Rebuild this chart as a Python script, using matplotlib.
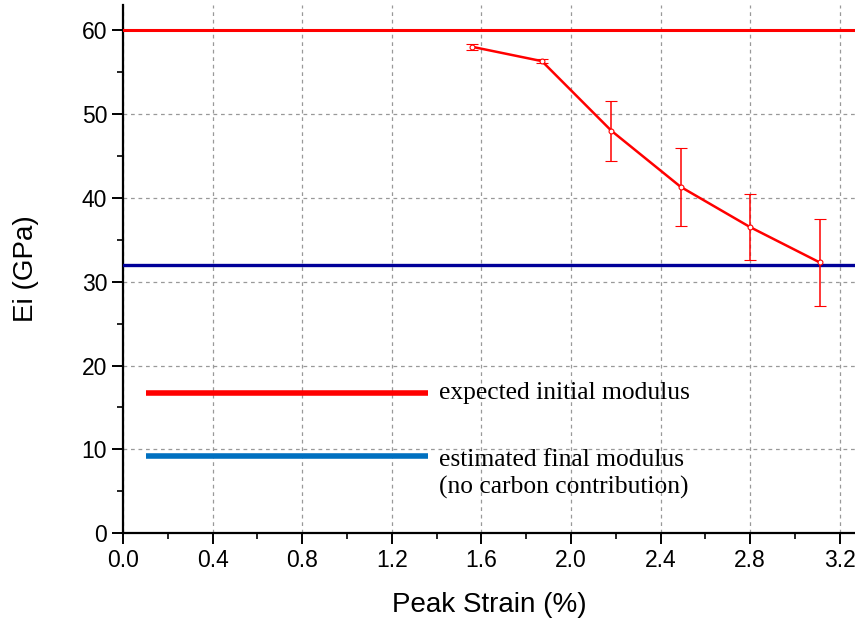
import matplotlib.pyplot as plt
from matplotlib.ticker import MultipleLocator

# Measured data
strain = [1.56, 1.87, 2.18, 2.49, 2.80, 3.11]
modulus = [58.0, 56.3, 48.0, 41.3, 36.5, 32.3]
modulus_err = [0.4, 0.2, 3.6, 4.7, 3.9, 5.2]

# Reference levels
expected_initial = 60
estimated_final = 32

red = '#FF0000'
navy = '#000099'
blue = '#0070C0'

fig = plt.figure(figsize=(8.55, 6.2), dpi=100)
ax = fig.add_axes([0.144, 0.140, 0.856, 0.852])

ax.axhline(expected_initial, color=red, lw=2.2, zorder=3)
ax.axhline(estimated_final, color=navy, lw=2.4, zorder=3)

ax.errorbar(strain, modulus, yerr=modulus_err, color=red, lw=1.8,
            elinewidth=1.1, capsize=4.3, capthick=1.1, marker='o', ms=3.5,
            mfc='white', mec=red, mew=0.8, zorder=4)

# Hand-drawn key
ax.plot([0.10, 1.36], [16.7, 16.7], color=red, lw=4, solid_capstyle='butt')
ax.plot([0.10, 1.36], [9.2, 9.2], color=blue, lw=4, solid_capstyle='butt')
ax.text(1.41, 16.7, 'expected initial modulus', fontsize=18.4,
        family='Liberation Serif', va='center', ha='left')
ax.text(1.41, 10.1, 'estimated final modulus\n(no carbon contribution)',
        fontsize=18.4, family='Liberation Serif', va='top', ha='left',
        linespacing=1.3)

ax.set_xlim(0, 3.268)
ax.set_ylim(0, 63)
ax.xaxis.set_major_locator(MultipleLocator(0.4))
ax.xaxis.set_minor_locator(MultipleLocator(0.2))
ax.yaxis.set_major_locator(MultipleLocator(10))
ax.yaxis.set_minor_locator(MultipleLocator(5))
ax.xaxis.set_major_formatter(plt.FuncFormatter(lambda v, p: f'{v:.1f}'))

ax.grid(True, which='major', color='#999999', ls=(0, (3, 3)), lw=0.9)
ax.set_axisbelow(True)

for s in ['top', 'right']:
    ax.spines[s].set_visible(False)
for s in ['left', 'bottom']:
    ax.spines[s].set_linewidth(1.6)

ax.tick_params(which='major', direction='out', length=8, width=1.4,
               labelsize=16.5)
ax.tick_params(which='minor', direction='out', length=4, width=1.2)
for lab in ax.get_xticklabels() + ax.get_yticklabels():
    lab.set_family('Liberation Sans')

ax.set_xlabel('Peak Strain (%)', fontsize=20, family='Liberation Sans',
              labelpad=14)
ax.set_ylabel('Ei (GPa)', fontsize=20, family='Liberation Sans', labelpad=31)

fig.savefig('out.png', dpi=100, facecolor='white')
